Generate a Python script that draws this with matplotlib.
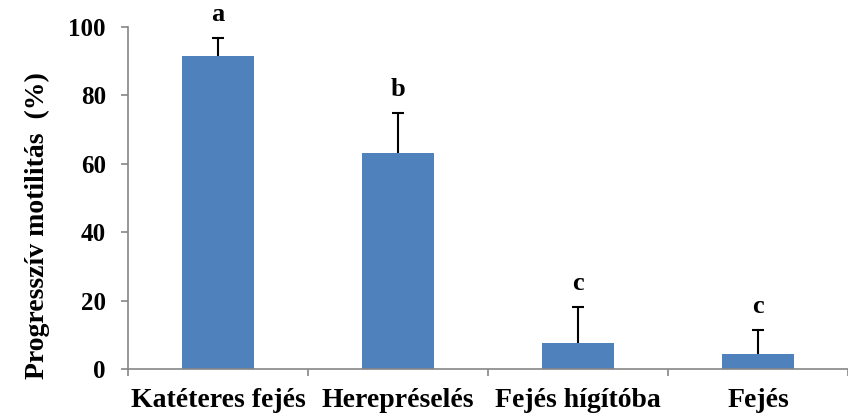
import numpy as np
import matplotlib.pyplot as plt

categories = ['Katéteres fejés', 'Herepréselés', 'Fejés hígítóba', 'Fejés']
values = [91.5, 63.2, 7.6, 4.4]
errors = [5.3, 11.7, 10.5, 7.0]
letters = ['a', 'b', 'c', 'c']

plt.rcParams['font.family'] = ['Liberation Serif', 'DejaVu Serif']
plt.rcParams['font.weight'] = 'bold'

fig = plt.figure(figsize=(8.48, 4.16), dpi=100)
ax = fig.add_axes([0.151, 0.113, 0.849, 0.822])

x = np.arange(len(categories))
tops = np.array(values) + np.array(errors)
ax.bar(x, values, width=0.4, color='#4F81BD', zorder=2)
# upper error bars only, cap on top
ax.vlines(x, values, tops, color='black', linewidth=1.5, zorder=3)
ax.hlines(tops, x - 0.035, x + 0.035, color='black', linewidth=1.5, zorder=3)

for xi, t, lab in zip(x, tops, letters):
    ax.text(xi, t + 3.5, lab, ha='center', va='bottom', fontsize=19,
            fontweight='bold', clip_on=False)

ax.set_ylim(0, 100)
ax.set_xlim(-0.5, 3.45)
ax.set_yticks(range(0, 101, 20))
ax.set_xticks(x)
ax.set_xticklabels(categories, fontsize=20, fontweight='bold')
ax.set_xticks(np.arange(-0.5, 3.6, 1), minor=True)
ax.tick_params(axis='x', which='major', length=0, pad=14)
ax.tick_params(axis='x', which='minor', length=5, color='#868686', width=1.2)
ax.tick_params(axis='y', length=5, color='#868686', width=1.2, labelsize=18, pad=11)

for s in ['top', 'right']:
    ax.spines[s].set_visible(False)
for s in ['left', 'bottom']:
    ax.spines[s].set_color('#868686')
    ax.spines[s].set_linewidth(1.2)

ax.set_ylabel('Progresszív motilitás  (%)', fontsize=20, fontweight='bold')
ax.yaxis.set_label_coords(-0.108, 0.42)

fig.savefig('out.png', dpi=100)
